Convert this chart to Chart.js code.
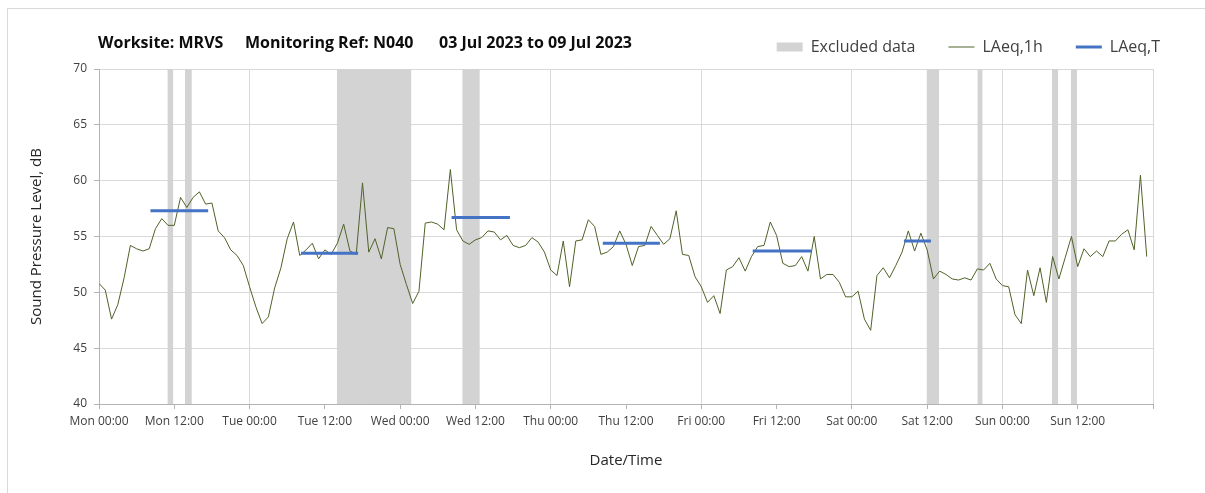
<!DOCTYPE html>
<html lang="en">
<head>
<meta charset="UTF-8">
<title>Noise Monitoring N040</title>
<script src="https://cdn.jsdelivr.net/npm/chart.js"></script>
<style>
  html, body { margin: 0; padding: 0; background: #fff; }
  #wrap { position: relative; width: 1205px; height: 493px; overflow: hidden; }
  #frame { position: absolute; left: 7px; top: 8px; width: 1300px; height: 600px; border: 1px solid #d9d9d9; }
  canvas { position: absolute; left: 0; top: 0; }
</style>
</head>
<body>
<div id="wrap">
  <div id="frame"></div>
  <canvas id="noiseChart" width="1205" height="493"></canvas>
</div>
<script>
// hourly LAeq,1h values, Mon 00:00 onward (168 h)
const laeq1h = [
  50.8, 50.2, 47.6, 48.9, 51.3, 54.2, 53.9, 53.7, 53.9, 55.7, 56.6, 56.0,
  56.0, 58.5, 57.6, 58.5, 59.0, 57.9, 58.0, 55.5, 54.9, 53.8, 53.3, 52.4,
  50.5, 48.7, 47.2, 47.8, 50.4, 52.2, 54.8, 56.3, 53.3, 53.8, 54.4, 53.0,
  53.8, 53.4, 54.4, 56.1, 53.7, 53.4, 59.8, 53.6, 54.8, 53.0, 55.8, 55.7,
  52.5, 50.7, 49.0, 50.1, 56.2, 56.3, 56.1, 55.6, 61.0, 55.6, 54.6, 54.3,
  54.7, 54.9, 55.5, 55.4, 54.7, 55.1, 54.2, 54.0, 54.2, 54.9, 54.5, 53.6,
  52.0, 51.5, 54.6, 50.5, 54.6, 54.7, 56.5, 55.9, 53.4, 53.6, 54.1, 55.5,
  54.3, 52.4, 54.1, 54.2, 55.9, 55.1, 54.3, 54.8, 57.3, 53.4, 53.3, 51.4,
  50.5, 49.1, 49.7, 48.1, 52.0, 52.3, 53.1, 51.9, 53.2, 54.1, 54.2, 56.3,
  55.1, 52.6, 52.3, 52.4, 53.2, 51.9, 55.0, 51.2, 51.6, 51.6, 50.9, 49.6,
  49.6, 50.1, 47.6, 46.6, 51.5, 52.2, 51.3, 52.4, 53.6, 55.5, 53.7, 55.3,
  53.8, 51.2, 51.9, 51.6, 51.2, 51.1, 51.3, 51.1, 52.1, 52.0, 52.6, 51.2,
  50.6, 50.5, 48.0, 47.2, 52.0, 49.7, 52.2, 49.1, 53.2, 51.2, 53.1, 55.0,
  52.3, 53.9, 53.2, 53.7, 53.2, 54.6, 54.6, 55.2, 55.6, 53.8, 60.5, 53.2
];

// daytime LAeq,T periods (hours from Mon 00:00)
const laeqTStart = [8.2, 32.2, 56.2, 80.3, 104.2, 128.3];
const laeqTEnd   = [17.4, 41.3, 65.5, 89.4, 113.5, 132.6];
const laeqTValue = [57.3, 53.5, 56.7, 54.4, 53.7, 54.6];

// excluded data periods (hours from Mon 00:00)
const excludedStart = [10.9, 13.7, 37.9, 57.9, 131.9, 140.0, 151.9, 154.9];
const excludedEnd   = [11.85, 14.8, 49.8, 60.7, 133.9, 140.85, 152.9, 155.9];

const dayNames = ['Mon', 'Tue', 'Wed', 'Thu', 'Fri', 'Sat', 'Sun', 'Mon'];
const yMin = 40, yMax = 70, yStep = 5;

const titleParts = ['Worksite: MRVS', 'Monitoring Ref: N040', '03 Jul 2023 to 09 Jul 2023'];
const titleOffsets = [-1, 146, 340];

const FONT = "'Open Sans', sans-serif";
const GREEN = '#4f6228';
const BLUE = '#4472c4';
const GREY = '#d3d3d3';

const hourlyPoints = laeq1h.map((v, i) => ({ x: i, y: v }));

const periodPoints = [];
laeqTValue.forEach((v, i) => {
  periodPoints.push({ x: laeqTStart[i], y: v }, { x: laeqTEnd[i], y: v }, { x: laeqTEnd[i], y: null });
});

const excludedPoints = [];
excludedStart.forEach((s, i) => {
  excludedPoints.push({ x: s, y: yMax }, { x: excludedEnd[i], y: yMax }, { x: excludedEnd[i], y: null });
});

const legendItems = [
  { text: 'Excluded data', fillStyle: GREY, strokeStyle: GREY, lineWidth: 0, pointStyle: 'rect', hidden: false, datasetIndex: 2, fontColor: '#404040' },
  { text: 'LAeq,1h', fillStyle: GREEN, strokeStyle: GREEN, lineWidth: 1, pointStyle: 'line', hidden: false, datasetIndex: 1, fontColor: '#404040' },
  { text: 'LAeq,T', fillStyle: BLUE, strokeStyle: BLUE, lineWidth: 3, pointStyle: 'line', hidden: false, datasetIndex: 0, fontColor: '#404040' }
];

// a little extra room between the legend row and the plot
const legendSpacing = {
  id: 'legendSpacing',
  beforeInit(chart) {
    const fit = chart.legend.fit;
    chart.legend.fit = function () {
      fit.call(this);
      this.height += 4;
    };
  }
};

const headerText = {
  id: 'headerText',
  afterDraw(chart) {
    const c = chart.ctx;
    const area = chart.chartArea;
    c.save();
    c.font = "bold 16px " + FONT;
    c.fillStyle = '#0d0d0d';
    c.textBaseline = 'middle';
    titleParts.forEach((t, i) => c.fillText(t, area.left + titleOffsets[i], 43));
    c.restore();
  }
};

new Chart(document.getElementById('noiseChart'), {
  type: 'line',
  data: {
    datasets: [
      { label: 'LAeq,T', data: periodPoints, borderColor: BLUE, borderWidth: 3, pointRadius: 0, spanGaps: false, fill: false },
      { label: 'LAeq,1h', data: hourlyPoints, borderColor: GREEN, borderWidth: 1, pointRadius: 0, tension: 0, fill: false },
      { label: 'Excluded data', data: excludedPoints, borderWidth: 0, borderColor: 'rgba(0,0,0,0)', backgroundColor: GREY, pointRadius: 0, spanGaps: false, fill: 'start' }
    ]
  },
  options: {
    responsive: false,
    animation: false,
    layout: { padding: { top: 6, right: 12, left: 0, bottom: 0 } },
    plugins: {
      title: { display: false },
      tooltip: { enabled: false },
      legend: {
        position: 'top',
        align: 'end',
        labels: {
          usePointStyle: true,
          pointStyleWidth: 26,
          boxHeight: 9,
          padding: 33,
          color: '#404040',
          font: { family: FONT, size: 16 },
          generateLabels: () => legendItems
        }
      }
    },
    scales: {
      x: {
        type: 'linear',
        min: 0,
        max: 168,
        afterFit: s => { s.height = 89; },
        ticks: {
          stepSize: 12,
          autoSkip: false,
          maxRotation: 0,
          padding: 5,
          color: '#404040',
          font: { family: FONT, size: 12 },
          callback: v => v >= 168 ? '' : dayNames[Math.floor(v / 24)] + (v % 24 === 0 ? ' 00:00' : ' 12:00')
        },
        grid: {
          color: c => (c.tick && c.tick.value % 24 === 0) ? '#d9d9d9' : 'rgba(0,0,0,0)',
          tickColor: '#b3b3b3',
          tickLength: 5
        },
        border: { color: '#b3b3b3' },
        title: { display: true, text: 'Date/Time', color: '#262626', font: { family: FONT, size: 15 }, padding: { bottom: 23 } }
      },
      y: {
        min: yMin,
        max: yMax,
        afterFit: s => { s.width = 99; },
        ticks: {
          stepSize: yStep,
          padding: 7,
          color: '#404040',
          font: { family: FONT, size: 12 }
        },
        grid: { color: '#d9d9d9', tickColor: '#b3b3b3', tickLength: 5 },
        border: { color: '#b3b3b3' },
        title: { display: true, text: 'Sound Pressure Level, dB', color: '#262626', font: { family: FONT, size: 15 }, padding: { top: 28 } }
      },
      y2: {
        position: 'right',
        display: true,
        min: yMin,
        max: yMax,
        afterFit: s => { s.width = 40; },
        ticks: { display: false },
        grid: { display: false, drawTicks: false },
        border: { display: false }
      }
    }
  },
  plugins: [legendSpacing, headerText]
});
</script>
</body>
</html>
